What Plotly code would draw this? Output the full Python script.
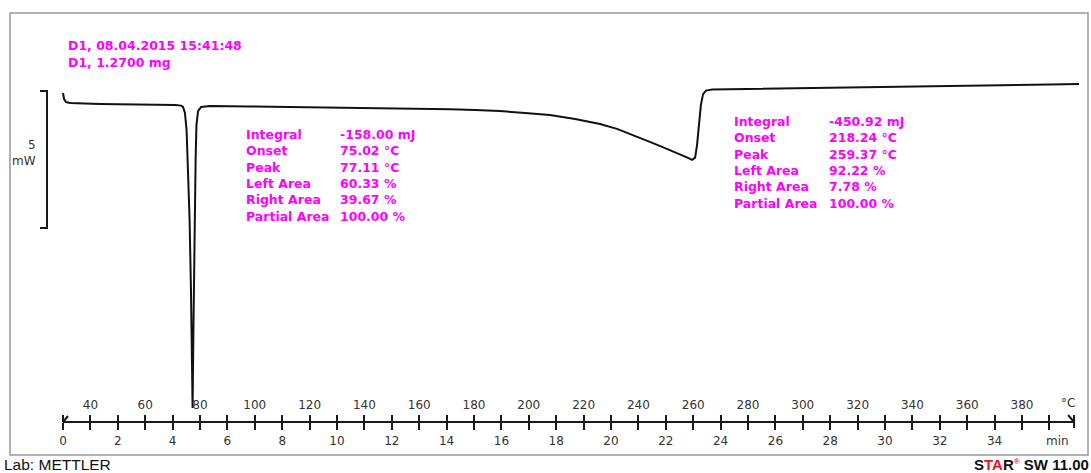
import plotly.graph_objects as go

# ---------------- data ----------------
time_min = [0.00, 0.04, 0.11, 0.26, 1.35, 3.18, 4.09, 4.31, 4.38, 4.45, 4.51, 4.56, 4.62, 4.67,
            4.73, 4.76, 4.80, 4.84, 4.87, 4.93, 5.04, 5.36, 6.82, 8.65, 10.47, 12.30, 14.12,
            15.04, 15.95, 16.86, 17.77, 18.69, 19.60, 20.22, 20.80, 21.44, 22.04, 22.52, 22.81,
            22.96, 23.07, 23.14, 23.21, 23.28, 23.36, 23.47, 23.69, 25.07, 26.90, 28.72, 30.55,
            32.37, 34.20, 36.02, 37.08]
heat_flow_mw = [0.62, 0.40, 0.29, 0.26, 0.22, 0.20, 0.18, 0.16, 0.11, -0.11, -0.73, -2.19, -4.01,
                -6.57, -10.88, -8.03, -4.38, -1.82, -0.55, -0.04, 0.11, 0.15, 0.13, 0.11, 0.09,
                0.07, 0.03, 0.00, -0.04, -0.11, -0.18, -0.33, -0.51, -0.69, -0.91, -1.17, -1.42,
                -1.61, -1.75, -1.82, -1.74, -1.28, -0.55, 0.18, 0.58, 0.71, 0.75, 0.77, 0.78, 0.80,
                0.83, 0.86, 0.89, 0.93, 0.95]

time_ticks = list(range(0, 37))
time_tick_labels = [str(t) if (t % 2 == 0 and t < 36) else "" for t in time_ticks]
temp_ticks = list(range(30, 400, 10))
temp_tick_labels = [str(v) if (v % 20 == 0 and 40 <= v <= 380) else "" for v in temp_ticks]

START_TEMP_C = 30
RATE_K_PER_MIN = 10
AXIS_END_MIN = 36.9
SCALE_BAR_MW = 5
SCALE_BAR_TOP_MW = 0.69

header_lines = ["D1, 08.04.2015 15:41:48", "D1, 1.2700 mg"]
result_labels = ["Integral", "Onset", "Peak", "Left Area", "Right Area", "Partial Area"]
peak1_values = ["-158.00 mJ", "75.02 °C", "77.11 °C", "60.33 %", "39.67 %", "100.00 %"]
peak2_values = ["-450.92 mJ", "218.24 °C", "259.37 °C", "92.22 %", "7.78 %", "100.00 %"]

# ---------------- layout geometry ----------------
W, H = 1091, 473
ML, MR, MT, MB = 10, 3, 13, 51
PW, PH = W - ML - MR, H - MT - MB
T0_PX = 63.0
PX_PER_MIN = 27.4
PX_PER_MW = 27.4
Y_REF_PX = 110.0  # pixel row of 0 mW

x_range = [(ML - T0_PX) / PX_PER_MIN, (ML + PW - T0_PX) / PX_PER_MIN]
y_range = [(Y_REF_PX - (MT + PH)) / PX_PER_MW, (Y_REF_PX - MT) / PX_PER_MW]
temp_range = [START_TEMP_C + RATE_K_PER_MIN * v for v in x_range]


def px_x(px):
    return (px - ML) / PW


def px_y(py):
    return (MT + PH - py) / PH


MAGENTA = "#FF00FF"
AX_COL = "#1a1a1a"
TXT_COL = "#333333"
FONT = "DejaVu Sans"
MFS = 12.5  # magenta text size

fig = go.Figure()
fig.add_trace(go.Scatter(x=time_min, y=heat_flow_mw, mode="lines",
                         line=dict(color="#111111", width=2), hoverinfo="skip",
                         showlegend=False))
# invisible trace to activate the temperature axis
fig.add_trace(go.Scatter(x=[temp_range[0]], y=[y_range[0]], xaxis="x2", mode="markers",
                         marker=dict(opacity=0), showlegend=False, hoverinfo="skip"))

fig.update_layout(
    width=W, height=H,
    margin=dict(l=ML, r=MR, t=MT, b=MB, pad=0),
    paper_bgcolor="white", plot_bgcolor="white",
    showlegend=False,
    xaxis=dict(range=x_range, showgrid=False, zeroline=False, showline=False,
               tickmode="array", tickvals=time_ticks, ticktext=time_tick_labels,
               ticks="outside", ticklen=7, tickwidth=2, tickcolor=AX_COL,
               tickfont=dict(family=FONT, size=12, color=TXT_COL), ticklabelstandoff=1),
    xaxis2=dict(range=temp_range, overlaying="x", side="bottom", anchor="y",
                showgrid=False, zeroline=False, showline=False,
                tickmode="array", tickvals=temp_ticks, ticktext=temp_tick_labels,
                ticks="inside", ticklen=7, tickwidth=2, tickcolor=AX_COL,
                ticklabelposition="inside", ticklabelstandoff=3,
                tickfont=dict(family=FONT, size=12, color=TXT_COL)),
    yaxis=dict(range=y_range, visible=False, showgrid=False, zeroline=False),
)

shapes = []
# frame
shapes.append(dict(type="rect", xref="paper", yref="paper", x0=0, x1=1,
                   y0=px_y(455), y1=1, line=dict(color="#999999", width=1.5), layer="below"))
# axis line
shapes.append(dict(type="line", xref="x", yref="paper", x0=0, x1=AXIS_END_MIN, y0=0, y1=0,
                   line=dict(color=AX_COL, width=2)))
# start flag
shapes.append(dict(type="line", xref="x", yref="paper", xsizemode="pixel", ysizemode="pixel",
                   xanchor=0, yanchor=0, x0=0, x1=5, y0=0, y1=6,
                   line=dict(color=AX_COL, width=2)))
# end arrow
shapes.append(dict(type="line", xref="x", yref="paper", xsizemode="pixel", ysizemode="pixel",
                   xanchor=AXIS_END_MIN, yanchor=0, x0=0, x1=0, y0=-6, y1=7,
                   line=dict(color=AX_COL, width=2)))
shapes.append(dict(type="line", xref="x", yref="paper", xsizemode="pixel", ysizemode="pixel",
                   xanchor=AXIS_END_MIN, yanchor=0, x0=-6, x1=0, y0=7, y1=0,
                   line=dict(color=AX_COL, width=2)))
# scale bar
bx0, bx1 = px_x(40), px_x(47)
ytop, ybot = SCALE_BAR_TOP_MW, SCALE_BAR_TOP_MW - SCALE_BAR_MW
shapes.append(dict(type="path", xref="paper", yref="y",
                   path=f"M {bx0},{ytop} L {bx1},{ytop} L {bx1},{ybot} L {bx0},{ybot}",
                   line=dict(color=AX_COL, width=2)))
fig.update_layout(shapes=shapes)

ann = []
ann.append(dict(xref="paper", yref="y", x=px_x(38), y=(ytop + ybot) / 2 + 0.25,
                text=f"{SCALE_BAR_MW}<br>mW", showarrow=False, xanchor="right",
                yanchor="middle", align="right",
                font=dict(family=FONT, size=12, color=TXT_COL)))
# axis unit labels
ann.append(dict(xref="x", yref="paper", x=36.68, y=0, yshift=19, text="°C", showarrow=False,
                xanchor="center", yanchor="middle",
                font=dict(family=FONT, size=12, color=TXT_COL)))
ann.append(dict(xref="x", yref="paper", x=36.3, y=0, yshift=-19, text="min", showarrow=False,
                xanchor="center", yanchor="middle",
                font=dict(family=FONT, size=12, color=TXT_COL)))
# header
for i, line in enumerate(header_lines):
    ann.append(dict(xref="paper", yref="paper", x=px_x(66), y=px_y(46 + 16 * i),
                    text=f"<b>{line}</b>", showarrow=False, xanchor="left", yanchor="middle",
                    font=dict(family=FONT, size=MFS, color=MAGENTA)))
# result tables
for (lx, vx, top), vals in [((244, 338, 134.5), peak1_values), ((732, 827, 121.5), peak2_values)]:
    for i, (lab, val) in enumerate(zip(result_labels, vals)):
        yy = px_y(top + 16.3 * i)
        ann.append(dict(xref="paper", yref="paper", x=px_x(lx), y=yy, text=f"<b>{lab}</b>",
                        showarrow=False, xanchor="left", yanchor="middle",
                        font=dict(family=FONT, size=MFS, color=MAGENTA)))
        ann.append(dict(xref="paper", yref="paper", x=px_x(vx), y=yy, text=f"<b>{val}</b>",
                        showarrow=False, xanchor="left", yanchor="middle",
                        font=dict(family=FONT, size=MFS, color=MAGENTA)))
# footer
ann.append(dict(xref="paper", yref="paper", x=px_x(2), y=px_y(464.5), text="Lab: METTLER",
                showarrow=False, xanchor="left", yanchor="middle",
                font=dict(family="Liberation Sans", size=15.5, color="#111111")))
ann.append(dict(xref="paper", yref="paper", x=px_x(1091), y=px_y(464.5),
                text="<b>S<span style='color:#e8141b'>TA</span>R"
                     "<sup><span style='color:#e8141b;font-size:8px'>®</span></sup> SW 11.00</b>",
                showarrow=False, xanchor="right", yanchor="middle",
                font=dict(family="Liberation Sans", size=15, color="#111111")))
fig.update_layout(annotations=ann)

fig.write_html("out.html", config={"displayModeBar": False},
               post_script="document.body.style.margin='0';document.body.style.padding='0';")
